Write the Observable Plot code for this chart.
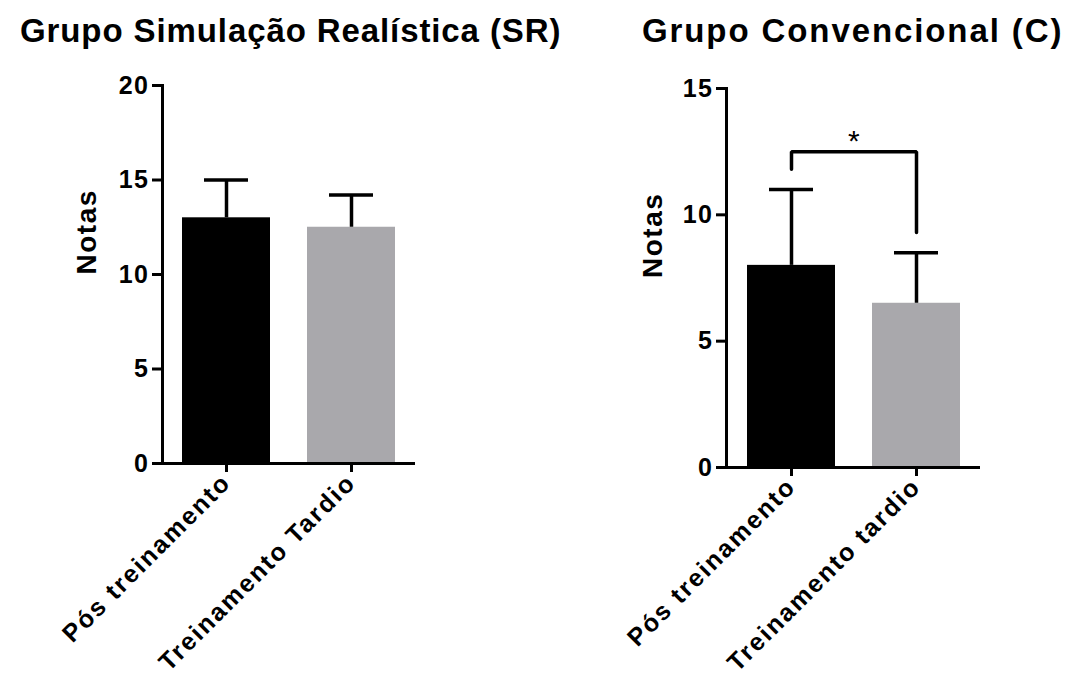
<!DOCTYPE html>
<html><head><meta charset="utf-8">
<script src="https://cdn.jsdelivr.net/npm/d3@7"></script>
<script src="https://cdn.jsdelivr.net/npm/@observablehq/plot@0.6"></script>
<style>
body{margin:0;background:#fff;}
#wrap{position:relative;width:1066px;height:675px;font-family:"Liberation Sans",Arial,Helvetica,sans-serif;}
.panel{position:absolute;top:0;width:533px;height:675px;}
.title{position:absolute;top:14px;font-size:33px;font-weight:bold;line-height:33px;white-space:nowrap;color:#000;}
.panel svg{position:absolute;top:55px;left:0;overflow:visible;}
.panel svg text{letter-spacing:1.5px;}
.panel svg g[aria-label="x-axis tick label"] text{letter-spacing:2px;}
</style></head><body>
<div id="wrap">
 <div class="panel" id="p1"><div class="title" id="t1" style="left:20px;letter-spacing:0.9px"></div></div>
 <div class="panel" id="p2" style="left:533px"><div class="title" id="t2" style="left:109px;letter-spacing:1.9px"></div></div>
</div>
<script>
const titles = ["Grupo Simulação Realística (SR)", "Grupo Convencional (C)"];
const catsSR = ["Pós treinamento", "Treinamento Tardio"];
const meanSR = [13, 12.5];
const upperSR = [15, 14.2];
const catsC = ["Pós treinamento", "Treinamento tardio"];
const meanC = [8, 6.5];
const upperC = [11, 8.5];
const yTicksSR = [0, 5, 10, 15, 20];
const yTicksC = [0, 5, 10, 15];
const barColors = ["#000000", "#a9a8ac"];
const yLabel = "Notas";
const bracketY = [11.8, 12.5, 12.5, 9.3];
const sigLabel = "*";

document.getElementById("t1").textContent = titles[0];
document.getElementById("t2").textContent = titles[1];

function panel({cats, mean, upper, ticks, width, height, ml, mr, mt, mb, labelDx, extra = []}) {
  const data = cats.map((c, i) => ({cat: c, mean: mean[i], upper: upper[i], color: barColors[i]}));
  return Plot.plot({
    width, height, marginLeft: ml, marginRight: mr, marginTop: mt, marginBottom: mb,
    style: {fontFamily: '"Liberation Sans", Arial, Helvetica, sans-serif', fontSize: "25px", fontWeight: "bold", color: "#000", background: "transparent", overflow: "visible"},
    x: {domain: cats, paddingInner: 0.3, paddingOuter: 0.16, label: null},
    y: {domain: [ticks[0], ticks[ticks.length - 1]], label: null},
    color: {type: "identity"},
    marks: [
      Plot.barY(data, {x: "cat", y: "mean", fill: "color"}),
      Plot.ruleX(data, {x: "cat", y1: "mean", y2: "upper", stroke: "#000", strokeWidth: 3.5}),
      Plot.tickY(data, {x: "cat", y: "upper", stroke: "#000", strokeWidth: 3.5, insetLeft: 22, insetRight: 22}),
      Plot.ruleY([0], {stroke: "#000", strokeWidth: 3}),
      Plot.frame({anchor: "left", stroke: "#000", strokeWidth: 3}),
      Plot.axisY({ticks, tickSize: 10, tickPadding: 3, strokeWidth: 3, fontSize: 25, fontWeight: "bold", label: null}),
      Plot.axisX({tickSize: 9, tickPadding: 6, tickRotate: -45, strokeWidth: 3, fontSize: 25, fontWeight: "bold", label: null}),
      Plot.text([yLabel], {frameAnchor: "left", text: d => d, rotate: -90, dx: labelDx, fontSize: 28, fontWeight: "bold"}),
      ...extra
    ]
  });
}

const left = panel({cats: catsSR, mean: meanSR, upper: upperSR, ticks: yTicksSR,
  width: 533, height: 620, ml: 162, mr: 118, mt: 30, mb: 212, labelDx: -75});
document.getElementById("p1").appendChild(left);

const bracketData = [
  {cat: catsC[0], y: bracketY[0]}, {cat: catsC[0], y: bracketY[1]},
  {cat: catsC[1], y: bracketY[2]}, {cat: catsC[1], y: bracketY[3]}
];
const right = panel({cats: catsC, mean: meanC, upper: upperC, ticks: yTicksC,
  width: 533, height: 620, ml: 193, mr: 86, mt: 33, mb: 208, labelDx: -73,
  extra: [
    Plot.line(bracketData, {x: "cat", y: "y", stroke: "#000", strokeWidth: 3.5, strokeLinejoin: "miter"}),
    Plot.text([sigLabel], {x: () => catsC[0], y: () => bracketY[1], text: d => d, dx: 63, dy: -10, fontSize: 30, fontWeight: "normal"})
  ]});
document.getElementById("p2").appendChild(right);
</script>
</body></html>
